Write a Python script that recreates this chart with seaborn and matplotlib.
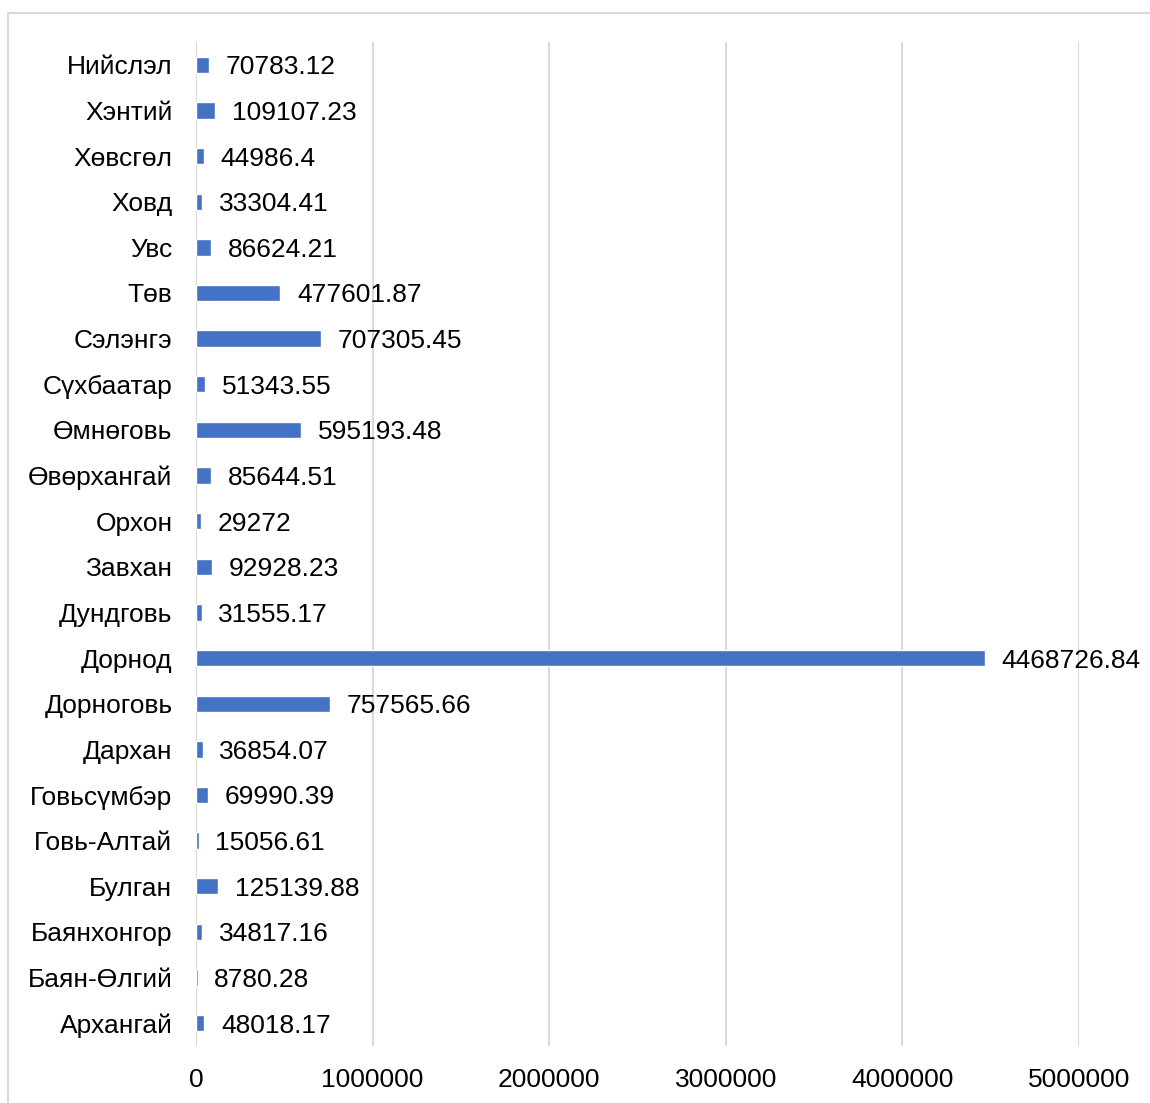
import matplotlib
matplotlib.use("Agg")
import matplotlib.pyplot as plt
import seaborn as sns
import pandas as pd
from matplotlib.patches import Rectangle

provinces = ["Нийслэл", "Хэнтий", "Хөвсгөл", "Ховд", "Увс", "Төв", "Сэлэнгэ",
             "Сүхбаатар", "Өмнөговь", "Өвөрхангай", "Орхон", "Завхан", "Дундговь",
             "Дорнод", "Дорноговь", "Дархан", "Говьсүмбэр", "Говь-Алтай", "Булган",
             "Баянхонгор", "Баян-Өлгий", "Архангай"]
values = [70783.12, 109107.23, 44986.4, 33304.41, 86624.21, 477601.87, 707305.45,
          51343.55, 595193.48, 85644.51, 29272, 92928.23, 31555.17,
          4468726.84, 757565.66, 36854.07, 69990.39, 15056.61, 125139.88,
          34817.16, 8780.28, 48018.17]
x_ticks = [0, 1000000, 2000000, 3000000, 4000000, 5000000]

df = pd.DataFrame({"province": provinces, "value": values})

sns.set_theme(style="white")
plt.rcParams["font.family"] = ["Liberation Sans", "DejaVu Sans"]

fig = plt.figure(figsize=(11.5, 11.03), dpi=100)
ax = fig.add_axes([196 / 1150, 1 - 1046 / 1103, (1079 - 196) / 1150, (1046 - 42) / 1103])

sns.barplot(data=df, x="value", y="province", orient="h", color="#4472C4",
            width=0.36, saturation=1, ax=ax)

ax.set_xlim(0, 5000000)
ax.set_xticks(x_ticks)
ax.set_xticklabels([str(t) for t in x_ticks])
ax.grid(axis="x", color="#d9d9d9", linewidth=1.5)
ax.set_axisbelow(True)
for s in ax.spines.values():
    s.set_visible(False)
ax.set_xlabel("")
ax.set_ylabel("")
ax.tick_params(axis="y", length=0, pad=17, labelsize=19, colors="black")
ax.tick_params(axis="x", length=0, pad=16, labelsize=19, colors="black")

labels = [f"{v:.2f}".rstrip("0").rstrip(".") for v in values]
texts = ax.bar_label(ax.containers[0], labels=labels, padding=12, fontsize=19,
                     color="black", clip_on=False)
for t in texts:
    t.set_va("center_baseline")

# light frame around the chart area
fig.patches.append(Rectangle((8 / 1150, -0.1), 1.2, 1 - 13 / 1103 + 0.1,
                             transform=fig.transFigure, fill=False,
                             edgecolor="#d9d9d9", linewidth=1.5))

fig.savefig("out.png", dpi=100)
